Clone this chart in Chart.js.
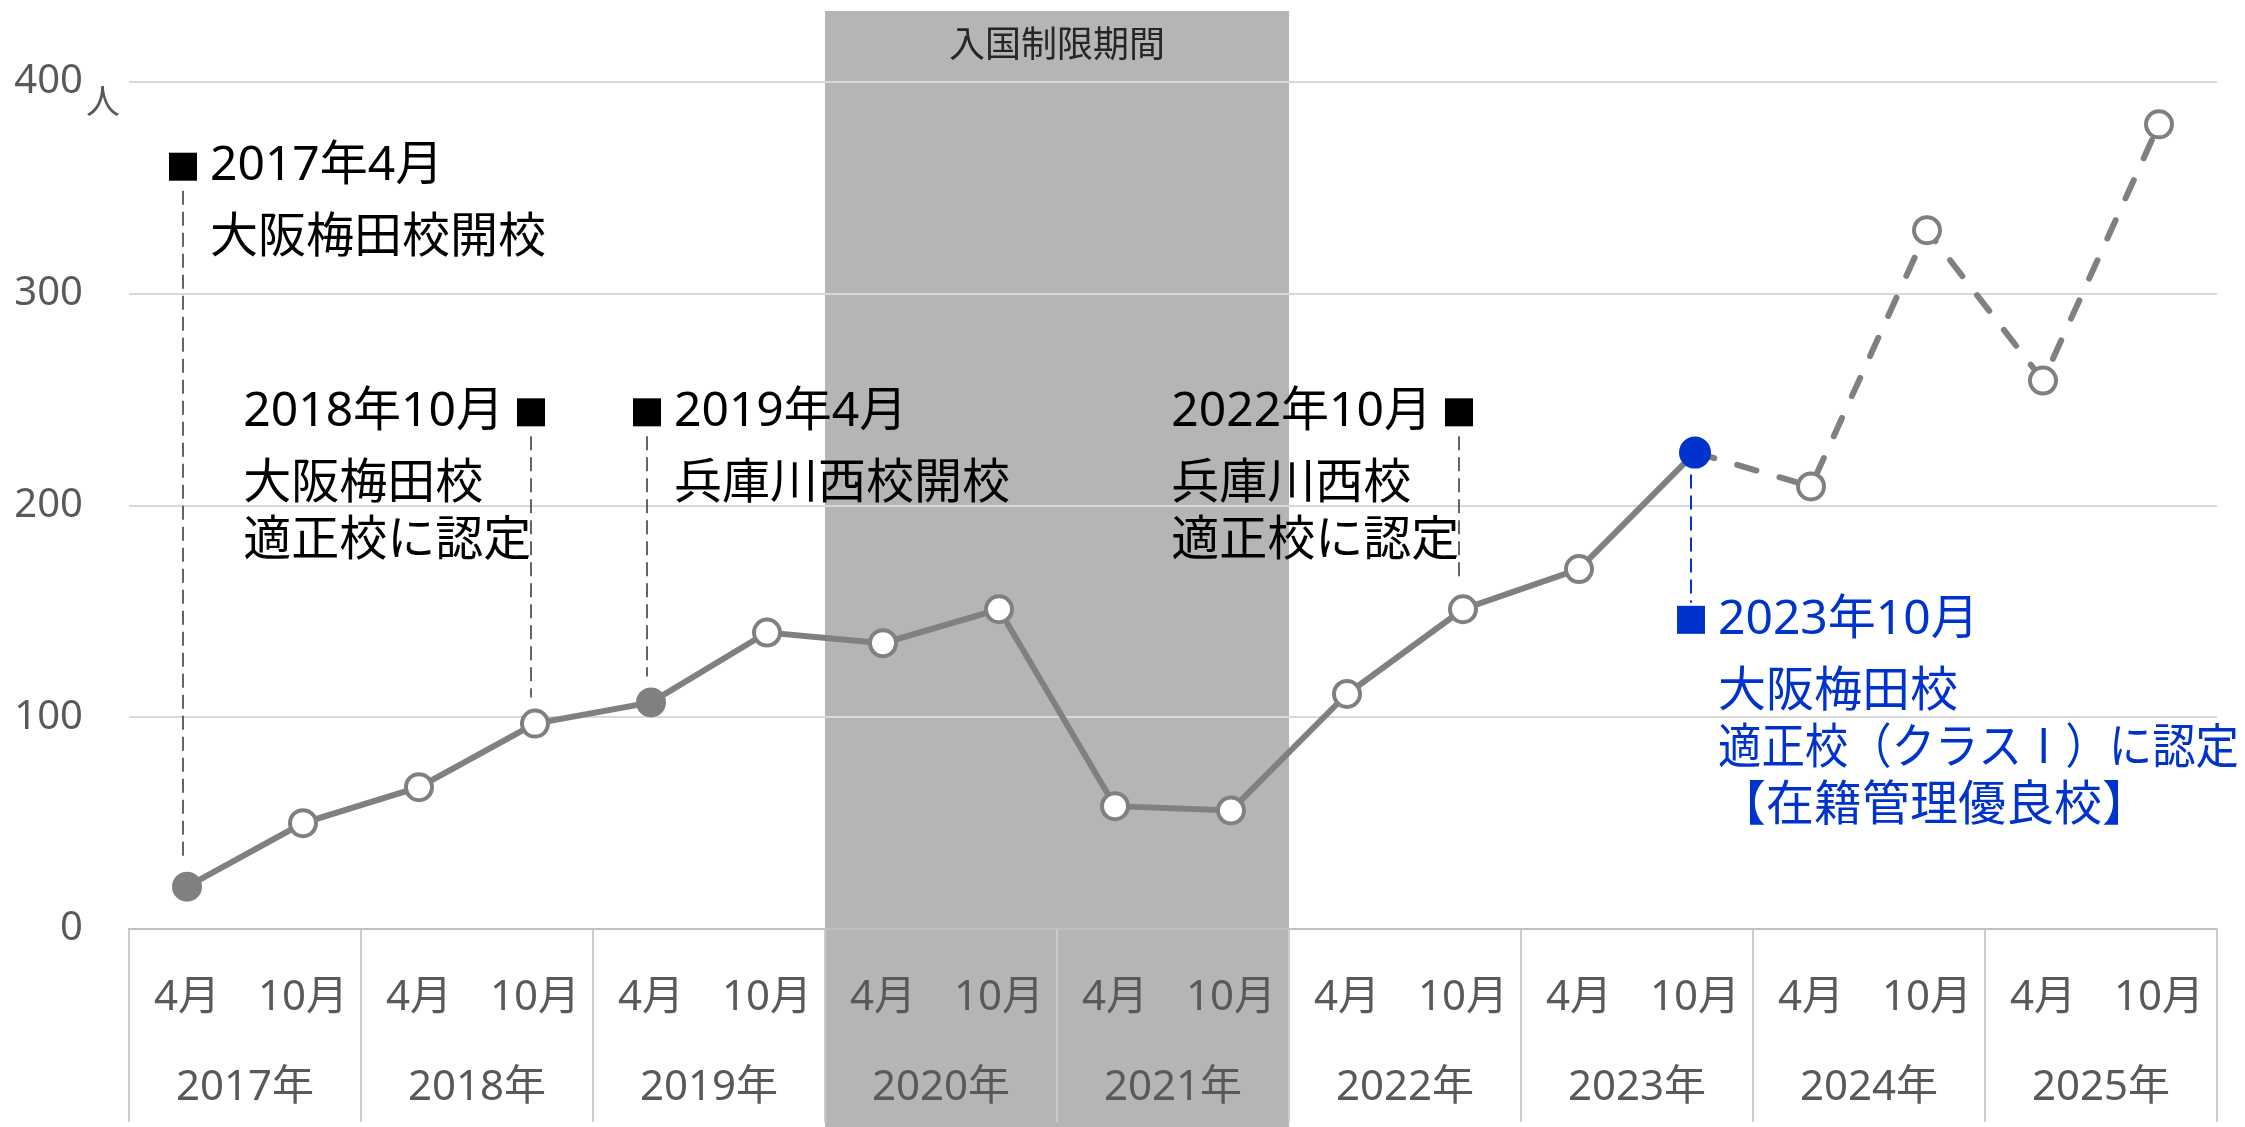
<!DOCTYPE html>
<html>
<head>
<meta charset="utf-8">
<script src="https://cdn.jsdelivr.net/npm/chart.js@4/dist/chart.umd.min.js"></script>
<style>
  html, body { margin: 0; padding: 0; background: #fff; }
  #wrap { width: 2245px; height: 1127px; position: relative; }
</style>
</head>
<body>
<div id="wrap"><canvas id="studentChart"></canvas></div>
<script>
// 在籍者数の推移
const months = ["4月", "10月", "4月", "10月", "4月", "10月", "4月", "10月", "4月",
                "10月", "4月", "10月", "4月", "10月", "4月", "10月", "4月", "10月"];
const years = ["2017年", "2018年", "2019年", "2020年", "2021年", "2022年", "2023年", "2024年", "2025年"];
const students = [20, 50, 67, 97, 107, 140, 135, 151, 58, 56, 111, 151, 170, 225, 209, 330, 259, 380];
const yTicks = [0, 100, 200, 300, 400];
const yUnit = "人";

// 入国制限期間 (2020年〜2021年)
const restrictedYears = ["2020年", "2021年"];
const restrictedLabel = "入国制限期間";

const forecastFrom = 13;      // 2023年10月以降は見込み（破線）
const openingIdx = [0, 4];    // 開校時点
const highlightIdx = 13;      // 優良校認定

const notes = [
    { at: 0, y: 360, side: "right", lines: ["2017年4月", "大阪梅田校開校"] },
    { at: 3, y: 244, side: "left", lines: ["2018年10月", "大阪梅田校", "適正校に認定"] },
    { at: 4, y: 244, side: "right", lines: ["2019年4月", "兵庫川西校開校"] },
    { at: 11, y: 244, side: "left", lines: ["2022年10月", "兵庫川西校", "適正校に認定"] },
    { at: 13, y: 146, side: "right", below: true, color: "#0033CC",
      lines: ["2023年10月", "大阪梅田校", "適正校（クラスⅠ）に認定", "【在籍管理優良校】"] }
];

const FONT = '"Noto Sans", "Noto Sans CJK JP", sans-serif';
const GRAY = "#808080";
const BLUE = "#0033CC";

const pointFill = students.map((v, i) =>
    i === highlightIdx ? BLUE : (openingIdx.includes(i) ? GRAY : "#ffffff"));
const pointLine = students.map((v, i) => i === highlightIdx ? BLUE : GRAY);
const pointSize = students.map((v, i) => i === highlightIdx ? 14 : 13);

function yearEdges(xs) {
    const step = (xs.right - xs.left) / months.length;
    return years.map((y, i) => [xs.left + i * 2 * step, xs.left + (i + 1) * 2 * step]);
}

const bandPlugin = {
    id: "band",
    beforeDraw(chart) {
        const ctx = chart.ctx;
        const edges = yearEdges(chart.scales.x);
        const first = edges[years.indexOf(restrictedYears[0])];
        const last = edges[years.indexOf(restrictedYears[restrictedYears.length - 1])];
        ctx.save();
        ctx.fillStyle = "#b5b5b5";
        ctx.fillRect(first[0], 11, last[1] - first[0], chart.height - 11);
        ctx.fillStyle = "#262626";
        ctx.font = "36px " + FONT;
        ctx.textAlign = "center";
        ctx.textBaseline = "middle";
        ctx.fillText(restrictedLabel, (first[0] + last[1]) / 2, 47);
        ctx.restore();
    }
};

const axisPlugin = {
    id: "yearAxis",
    beforeDatasetsDraw(chart) {
        const ctx = chart.ctx;
        const xs = chart.scales.x, ys = chart.scales.y;
        const top = chart.chartArea.bottom;
        ctx.save();
        ctx.strokeStyle = "#cccccc";
        ctx.lineWidth = 2;
        yearEdges(xs).forEach(([a, b], i) => {
            ctx.beginPath();
            if (i === 0) { ctx.moveTo(a, top); ctx.lineTo(a, chart.height - 5); }
            ctx.moveTo(b, top);
            ctx.lineTo(b, chart.height - 5);
            ctx.stroke();
        });
        ctx.fillStyle = "#595959";
        ctx.font = "42px " + FONT;
        ctx.textAlign = "center";
        ctx.textBaseline = "middle";
        yearEdges(xs).forEach(([a, b], i) => {
            ctx.fillText(years[i], (a + b) / 2, top + 159);
        });
        // 単位
        ctx.font = "34px " + FONT;
        ctx.textAlign = "left";
        ctx.fillText(yUnit, ys.right - 43, ys.getPixelForValue(yTicks[yTicks.length - 1]) + 22);
        ctx.restore();
    }
};

const notesPlugin = {
    id: "notes",
    afterDatasetsDraw(chart) {
        const ctx = chart.ctx;
        const xs = chart.scales.x, ys = chart.scales.y;
        notes.forEach(n => {
            const color = n.color || "#000000";
            const px = xs.getPixelForValue(n.at) - 4;
            const py = ys.getPixelForValue(students[n.at]);
            const sy = ys.getPixelForValue(n.y);
            ctx.save();
            ctx.strokeStyle = n.color ? color : "#333333";
            ctx.lineWidth = n.color ? 2 : 1.5;
            ctx.setLineDash([14, 7]);
            ctx.beginPath();
            if (n.below) {
                ctx.moveTo(px, py + 22);
                ctx.lineTo(px, sy - 17);
            } else {
                ctx.moveTo(px, sy + 24);
                ctx.lineTo(px, py - 26);
            }
            ctx.stroke();
            ctx.setLineDash([]);
            ctx.fillStyle = color;
            ctx.fillRect(px - 14, sy - 14, 28, 28);
            ctx.font = "48px " + FONT;
            ctx.textAlign = "left";
            ctx.textBaseline = "middle";
            const tx = n.side === "left" ? px - 27 - ctx.measureText(n.lines[0]).width : px + 27;
            n.lines.forEach((t, i) => {
                const ly = sy + (i === 0 ? 0 : 72 + (i - 1) * 57);
                ctx.fillText(t, tx, ly, chart.width - tx - 6);
            });
            ctx.restore();
        });
    }
};

const ctx = document.getElementById("studentChart").getContext("2d");
new Chart(ctx, {
    type: "line",
    data: {
        labels: months,
        datasets: [{
            data: students,
            borderColor: GRAY,
            borderWidth: 6,
            borderCapStyle: "round",
            tension: 0,
            pointRadius: pointSize,
            pointBackgroundColor: pointFill,
            pointBorderColor: pointLine,
            pointBorderWidth: 4,
            segment: {
                borderDash: c => c.p0DataIndex >= forecastFrom ? [20, 24] : undefined
            }
        }]
    },
    options: {
        responsive: true,
        maintainAspectRatio: false,
        animation: false,
        layout: { padding: { top: 82, right: 28, left: 0, bottom: 0 } },
        plugins: {
            legend: { display: false },
            tooltip: { enabled: false }
        },
        scales: {
            x: {
                offset: true,
                grid: { display: false },
                border: { color: "#bfbfbf", width: 2 },
                ticks: {
                    color: "#595959",
                    font: { size: 42, family: FONT },
                    padding: 36,
                    maxRotation: 0,
                    autoSkip: false
                },
                afterFit: s => { s.height = 198; }
            },
            y: {
                min: yTicks[0],
                max: yTicks[yTicks.length - 1],
                afterBuildTicks: s => { s.ticks = yTicks.map(v => ({ value: v })); },
                grid: {
                    color: c => c.tick && c.tick.value === 0 ? "#bfbfbf" : "#d9d9d9",
                    lineWidth: 2,
                    drawTicks: false
                },
                border: { display: false },
                ticks: {
                    color: "#595959",
                    font: { size: 40, family: FONT },
                    padding: 46
                },
                afterFit: s => { s.width = 129; }
            }
        }
    },
    plugins: [bandPlugin, axisPlugin, notesPlugin]
});
</script>
</body>
</html>
